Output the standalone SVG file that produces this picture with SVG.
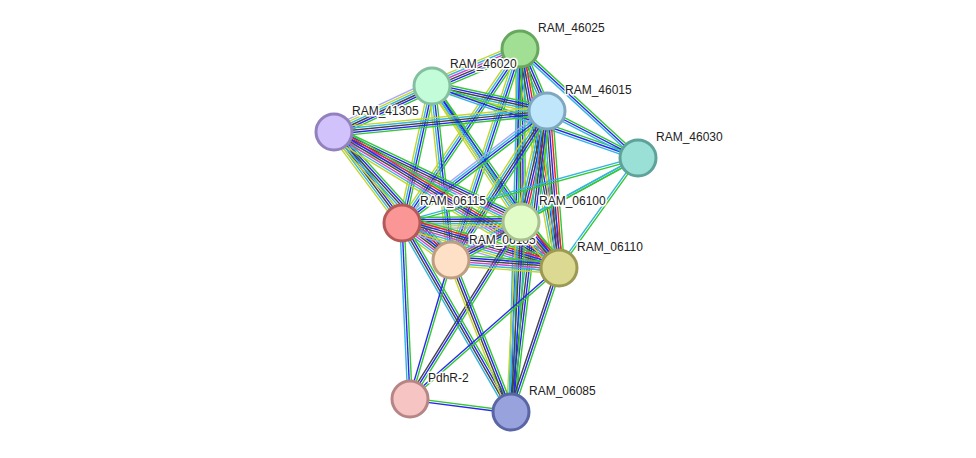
<svg xmlns="http://www.w3.org/2000/svg" width="976" height="458" viewBox="0 0 976 458">
<style>
line{stroke-width:1.4;fill:none}
.nb{stroke:#34c834}.fu{stroke:#ee2222}.co{stroke:#2626ee}.cx{stroke:#444444}
.ex{stroke:#cc44cc}.db{stroke:#33b5e0}.tm{stroke:#c4d52c}.hm{stroke:#a8a8f8}
circle{stroke-width:3}
text{font-family:"Liberation Sans",Arial,sans-serif;font-size:12px;fill:#222;stroke:#fff;stroke-width:3px;stroke-linejoin:round;paint-order:stroke}
</style>
<rect width="976" height="458" fill="#fff"/>
<g id="connectors">
<g transform="translate(520 49) rotate(157.2)"><line class="nb" x2="95.5" y1="-5.5" y2="-5.5"/><line class="co" x2="95.5" y1="-3.3" y2="-3.3"/><line class="cx" x2="95.5" y1="-1.1" y2="-1.1"/><line class="ex" x2="95.5" y1="1.1" y2="1.1"/><line class="db" x2="95.5" y1="3.3" y2="3.3"/><line class="tm" x2="95.5" y1="5.5" y2="5.5"/></g>
<g transform="translate(520 49) rotate(66.46)"><line class="nb" x2="67.6" y1="-4.4" y2="-4.4"/><line class="co" x2="67.6" y1="-2.2" y2="-2.2"/><line class="cx" x2="67.6" y1="0" y2="0"/><line class="db" x2="67.6" y1="2.2" y2="2.2"/><line class="tm" x2="67.6" y1="4.4" y2="4.4"/></g>
<g transform="translate(520 49) rotate(42.72)"><line class="nb" x2="160.6" y1="-2.2" y2="-2.2"/><line class="co" x2="160.6" y1="0" y2="0"/><line class="db" x2="160.6" y1="2.2" y2="2.2"/></g>
<g transform="translate(520 49) rotate(124.15)"><line class="nb" x2="210.2" y1="-3.3" y2="-3.3"/><line class="co" x2="210.2" y1="-1.1" y2="-1.1"/><line class="db" x2="210.2" y1="1.1" y2="1.1"/><line class="tm" x2="210.2" y1="3.3" y2="3.3"/></g>
<g transform="translate(520 49) rotate(89.67)"><line class="nb" x2="173" y1="-4.4" y2="-4.4"/><line class="co" x2="173" y1="-2.2" y2="-2.2"/><line class="cx" x2="173" y1="0" y2="0"/><line class="db" x2="173" y1="2.2" y2="2.2"/><line class="tm" x2="173" y1="4.4" y2="4.4"/></g>
<g transform="translate(520 49) rotate(108.11)"><line class="nb" x2="222" y1="-3.3" y2="-3.3"/><line class="co" x2="222" y1="-1.1" y2="-1.1"/><line class="db" x2="222" y1="1.1" y2="1.1"/><line class="tm" x2="222" y1="3.3" y2="3.3"/></g>
<g transform="translate(520 49) rotate(79.9)"><line class="nb" x2="222.4" y1="-5.5" y2="-5.5"/><line class="fu" x2="222.4" y1="-3.3" y2="-3.3"/><line class="co" x2="222.4" y1="-1.1" y2="-1.1"/><line class="cx" x2="222.4" y1="1.1" y2="1.1"/><line class="db" x2="222.4" y1="3.3" y2="3.3"/><line class="tm" x2="222.4" y1="5.5" y2="5.5"/></g>
<g transform="translate(520 49) rotate(91.42)"><line class="nb" x2="363.1" y1="-2.2" y2="-2.2"/><line class="co" x2="363.1" y1="0" y2="0"/><line class="db" x2="363.1" y1="2.2" y2="2.2"/></g>
<g transform="translate(432 86) rotate(12.26)"><line class="nb" x2="117.7" y1="-4.4" y2="-4.4"/><line class="co" x2="117.7" y1="-2.2" y2="-2.2"/><line class="cx" x2="117.7" y1="0" y2="0"/><line class="db" x2="117.7" y1="2.2" y2="2.2"/><line class="tm" x2="117.7" y1="4.4" y2="4.4"/></g>
<g transform="translate(432 86) rotate(154.86)"><line class="nb" x2="108.3" y1="-5.5" y2="-5.5"/><line class="co" x2="108.3" y1="-3.3" y2="-3.3"/><line class="cx" x2="108.3" y1="-1.1" y2="-1.1"/><line class="db" x2="108.3" y1="1.1" y2="1.1"/><line class="tm" x2="108.3" y1="3.3" y2="3.3"/><line class="hm" x2="108.3" y1="5.5" y2="5.5"/></g>
<g transform="translate(432 86) rotate(19.27)"><line class="nb" x2="218.2" y1="-2.2" y2="-2.2"/><line class="co" x2="218.2" y1="0" y2="0"/><line class="db" x2="218.2" y1="2.2" y2="2.2"/></g>
<g transform="translate(432 86) rotate(102.35)"><line class="nb" x2="140.2" y1="-3.3" y2="-3.3"/><line class="co" x2="140.2" y1="-1.1" y2="-1.1"/><line class="db" x2="140.2" y1="1.1" y2="1.1"/><line class="tm" x2="140.2" y1="3.3" y2="3.3"/></g>
<g transform="translate(432 86) rotate(56.8)"><line class="nb" x2="162.5" y1="-3.3" y2="-3.3"/><line class="co" x2="162.5" y1="-1.1" y2="-1.1"/><line class="db" x2="162.5" y1="1.1" y2="1.1"/><line class="tm" x2="162.5" y1="3.3" y2="3.3"/></g>
<g transform="translate(432 86) rotate(83.77)"><line class="nb" x2="175" y1="-3.3" y2="-3.3"/><line class="co" x2="175" y1="-1.1" y2="-1.1"/><line class="db" x2="175" y1="1.1" y2="1.1"/><line class="tm" x2="175" y1="3.3" y2="3.3"/></g>
<g transform="translate(432 86) rotate(55.1)"><line class="nb" x2="221.9" y1="-3.3" y2="-3.3"/><line class="co" x2="221.9" y1="-1.1" y2="-1.1"/><line class="db" x2="221.9" y1="1.1" y2="1.1"/><line class="tm" x2="221.9" y1="3.3" y2="3.3"/></g>
<g transform="translate(547 111) rotate(174.37)"><line class="nb" x2="214" y1="-4.4" y2="-4.4"/><line class="co" x2="214" y1="-2.2" y2="-2.2"/><line class="cx" x2="214" y1="0" y2="0"/><line class="db" x2="214" y1="2.2" y2="2.2"/><line class="tm" x2="214" y1="4.4" y2="4.4"/></g>
<g transform="translate(547 111) rotate(27.31)"><line class="nb" x2="102.4" y1="-2.2" y2="-2.2"/><line class="co" x2="102.4" y1="0" y2="0"/><line class="db" x2="102.4" y1="2.2" y2="2.2"/></g>
<g transform="translate(547 111) rotate(142.32)"><line class="nb" x2="183.2" y1="-3.3" y2="-3.3"/><line class="co" x2="183.2" y1="-1.1" y2="-1.1"/><line class="db" x2="183.2" y1="1.1" y2="1.1"/><line class="hm" x2="183.2" y1="3.3" y2="3.3"/></g>
<g transform="translate(547 111) rotate(103.18)"><line class="nb" x2="114" y1="-5.5" y2="-5.5"/><line class="fu" x2="114" y1="-3.3" y2="-3.3"/><line class="co" x2="114" y1="-1.1" y2="-1.1"/><line class="cx" x2="114" y1="1.1" y2="1.1"/><line class="db" x2="114" y1="3.3" y2="3.3"/><line class="tm" x2="114" y1="5.5" y2="5.5"/></g>
<g transform="translate(547 111) rotate(122.79)"><line class="nb" x2="177.2" y1="-4.4" y2="-4.4"/><line class="co" x2="177.2" y1="-2.2" y2="-2.2"/><line class="cx" x2="177.2" y1="0" y2="0"/><line class="db" x2="177.2" y1="2.2" y2="2.2"/><line class="tm" x2="177.2" y1="4.4" y2="4.4"/></g>
<g transform="translate(547 111) rotate(85.63)"><line class="nb" x2="157.5" y1="-5.5" y2="-5.5"/><line class="fu" x2="157.5" y1="-3.3" y2="-3.3"/><line class="co" x2="157.5" y1="-1.1" y2="-1.1"/><line class="cx" x2="157.5" y1="1.1" y2="1.1"/><line class="db" x2="157.5" y1="3.3" y2="3.3"/><line class="tm" x2="157.5" y1="5.5" y2="5.5"/></g>
<g transform="translate(547 111) rotate(96.82)"><line class="nb" x2="303.1" y1="-3.3" y2="-3.3"/><line class="co" x2="303.1" y1="-1.1" y2="-1.1"/><line class="cx" x2="303.1" y1="1.1" y2="1.1"/><line class="db" x2="303.1" y1="3.3" y2="3.3"/></g>
<g transform="translate(334 132) rotate(53.23)"><line class="nb" x2="113.6" y1="-4.4" y2="-4.4"/><line class="co" x2="113.6" y1="-2.2" y2="-2.2"/><line class="cx" x2="113.6" y1="0" y2="0"/><line class="db" x2="113.6" y1="2.2" y2="2.2"/><line class="tm" x2="113.6" y1="4.4" y2="4.4"/></g>
<g transform="translate(334 132) rotate(25.7)"><line class="nb" x2="207.5" y1="-5.5" y2="-5.5"/><line class="co" x2="207.5" y1="-3.3" y2="-3.3"/><line class="cx" x2="207.5" y1="-1.1" y2="-1.1"/><line class="ex" x2="207.5" y1="1.1" y2="1.1"/><line class="db" x2="207.5" y1="3.3" y2="3.3"/><line class="tm" x2="207.5" y1="5.5" y2="5.5"/></g>
<g transform="translate(334 132) rotate(47.57)"><line class="nb" x2="173.4" y1="-4.4" y2="-4.4"/><line class="co" x2="173.4" y1="-2.2" y2="-2.2"/><line class="cx" x2="173.4" y1="0" y2="0"/><line class="db" x2="173.4" y1="2.2" y2="2.2"/><line class="tm" x2="173.4" y1="4.4" y2="4.4"/></g>
<g transform="translate(334 132) rotate(31.15)"><line class="nb" x2="262.9" y1="-6.6" y2="-6.6"/><line class="fu" x2="262.9" y1="-4.4" y2="-4.4"/><line class="co" x2="262.9" y1="-2.2" y2="-2.2"/><line class="cx" x2="262.9" y1="0" y2="0"/><line class="ex" x2="262.9" y1="2.2" y2="2.2"/><line class="db" x2="262.9" y1="4.4" y2="4.4"/><line class="tm" x2="262.9" y1="6.6" y2="6.6"/></g>
<g transform="translate(638 158) rotate(164.6)"><line class="nb" x2="244.8" y1="-1.1" y2="-1.1"/><line class="db" x2="244.8" y1="1.1" y2="1.1"/></g>
<g transform="translate(638 158) rotate(151.32)"><line class="nb" x2="133.4" y1="-1.1" y2="-1.1"/><line class="db" x2="133.4" y1="1.1" y2="1.1"/></g>
<g transform="translate(638 158) rotate(151.39)"><line class="nb" x2="213" y1="-1.1" y2="-1.1"/><line class="db" x2="213" y1="1.1" y2="1.1"/></g>
<g transform="translate(638 158) rotate(125.68)"><line class="nb" x2="135.4" y1="-1.1" y2="-1.1"/><line class="db" x2="135.4" y1="1.1" y2="1.1"/></g>
<g transform="translate(402 223) rotate(-0.48)"><line class="nb" x2="119" y1="-5.5" y2="-5.5"/><line class="co" x2="119" y1="-3.3" y2="-3.3"/><line class="cx" x2="119" y1="-1.1" y2="-1.1"/><line class="db" x2="119" y1="1.1" y2="1.1"/><line class="tm" x2="119" y1="3.3" y2="3.3"/><line class="hm" x2="119" y1="5.5" y2="5.5"/></g>
<g transform="translate(402 223) rotate(37.06)"><line class="nb" x2="61.4" y1="-6.6" y2="-6.6"/><line class="fu" x2="61.4" y1="-4.4" y2="-4.4"/><line class="co" x2="61.4" y1="-2.2" y2="-2.2"/><line class="cx" x2="61.4" y1="0" y2="0"/><line class="ex" x2="61.4" y1="2.2" y2="2.2"/><line class="db" x2="61.4" y1="4.4" y2="4.4"/><line class="tm" x2="61.4" y1="6.6" y2="6.6"/></g>
<g transform="translate(402 223) rotate(15.99)"><line class="nb" x2="163.3" y1="-7.7" y2="-7.7"/><line class="fu" x2="163.3" y1="-5.5" y2="-5.5"/><line class="co" x2="163.3" y1="-3.3" y2="-3.3"/><line class="cx" x2="163.3" y1="-1.1" y2="-1.1"/><line class="ex" x2="163.3" y1="1.1" y2="1.1"/><line class="db" x2="163.3" y1="3.3" y2="3.3"/><line class="tm" x2="163.3" y1="5.5" y2="5.5"/><line class="hm" x2="163.3" y1="7.7" y2="7.7"/></g>
<g transform="translate(402 223) rotate(87.4)"><line class="nb" x2="176.2" y1="-2.2" y2="-2.2"/><line class="co" x2="176.2" y1="0" y2="0"/><line class="db" x2="176.2" y1="2.2" y2="2.2"/></g>
<g transform="translate(402 223) rotate(60.03)"><line class="nb" x2="218.2" y1="-3.3" y2="-3.3"/><line class="co" x2="218.2" y1="-1.1" y2="-1.1"/><line class="cx" x2="218.2" y1="1.1" y2="1.1"/><line class="db" x2="218.2" y1="3.3" y2="3.3"/></g>
<g transform="translate(521 222) rotate(151.5)"><line class="nb" x2="79.6" y1="-5.5" y2="-5.5"/><line class="co" x2="79.6" y1="-3.3" y2="-3.3"/><line class="cx" x2="79.6" y1="-1.1" y2="-1.1"/><line class="ex" x2="79.6" y1="1.1" y2="1.1"/><line class="db" x2="79.6" y1="3.3" y2="3.3"/><line class="tm" x2="79.6" y1="5.5" y2="5.5"/></g>
<g transform="translate(521 222) rotate(50.44)"><line class="nb" x2="59.7" y1="-6.6" y2="-6.6"/><line class="fu" x2="59.7" y1="-4.4" y2="-4.4"/><line class="co" x2="59.7" y1="-2.2" y2="-2.2"/><line class="cx" x2="59.7" y1="0" y2="0"/><line class="ex" x2="59.7" y1="2.2" y2="2.2"/><line class="db" x2="59.7" y1="4.4" y2="4.4"/><line class="tm" x2="59.7" y1="6.6" y2="6.6"/></g>
<g transform="translate(521 222) rotate(122.09)"><line class="nb" x2="208.9" y1="-2.2" y2="-2.2"/><line class="co" x2="208.9" y1="0" y2="0"/><line class="cx" x2="208.9" y1="2.2" y2="2.2"/></g>
<g transform="translate(521 222) rotate(93.01)"><line class="nb" x2="190.3" y1="-4.4" y2="-4.4"/><line class="co" x2="190.3" y1="-2.2" y2="-2.2"/><line class="cx" x2="190.3" y1="0" y2="0"/><line class="db" x2="190.3" y1="2.2" y2="2.2"/><line class="tm" x2="190.3" y1="4.4" y2="4.4"/></g>
<g transform="translate(451 260) rotate(4.24)"><line class="nb" x2="108.3" y1="-5.5" y2="-5.5"/><line class="co" x2="108.3" y1="-3.3" y2="-3.3"/><line class="cx" x2="108.3" y1="-1.1" y2="-1.1"/><line class="ex" x2="108.3" y1="1.1" y2="1.1"/><line class="db" x2="108.3" y1="3.3" y2="3.3"/><line class="tm" x2="108.3" y1="5.5" y2="5.5"/></g>
<g transform="translate(451 260) rotate(106.43)"><line class="nb" x2="144.9" y1="-1.1" y2="-1.1"/><line class="co" x2="144.9" y1="1.1" y2="1.1"/></g>
<g transform="translate(451 260) rotate(68.46)"><line class="nb" x2="163.4" y1="-3.3" y2="-3.3"/><line class="co" x2="163.4" y1="-1.1" y2="-1.1"/><line class="cx" x2="163.4" y1="1.1" y2="1.1"/><line class="tm" x2="163.4" y1="3.3" y2="3.3"/></g>
<g transform="translate(559 268) rotate(138.68)"><line class="nb" x2="198.4" y1="-1.1" y2="-1.1"/><line class="co" x2="198.4" y1="1.1" y2="1.1"/></g>
<g transform="translate(559 268) rotate(108.43)"><line class="nb" x2="151.8" y1="-2.2" y2="-2.2"/><line class="co" x2="151.8" y1="0" y2="0"/><line class="cx" x2="151.8" y1="2.2" y2="2.2"/></g>
<g transform="translate(410 399) rotate(7.33)"><line class="nb" x2="101.8" y1="-1.1" y2="-1.1"/><line class="co" x2="101.8" y1="1.1" y2="1.1"/></g>
</g>
<g id="RAM_46025"><circle cx="520" cy="49" r="18" fill="#a1df95" stroke="#68a85e"/><text x="538" y="32">RAM_46025</text></g>
<g id="RAM_46020"><circle cx="432" cy="86" r="18" fill="#c2fcd8" stroke="#84c0a0"/><text x="450" y="68">RAM_46020</text></g>
<g id="RAM_46015"><circle cx="547" cy="111" r="18" fill="#c0e6fb" stroke="#7ea7c0"/><text x="565" y="94">RAM_46015</text></g>
<g id="RAM_41305"><circle cx="334" cy="132" r="18" fill="#d1c2fb" stroke="#9281be"/><text x="352" y="115">RAM_41305</text></g>
<g id="RAM_46030"><circle cx="638" cy="158" r="18" fill="#9ae0d7" stroke="#5ea39a"/><text x="656" y="141">RAM_46030</text></g>
<g id="RAM_06115"><circle cx="402" cy="223" r="18" fill="#fb9696" stroke="#b45858"/><text x="420" y="205">RAM_06115</text></g>
<g id="RAM_06105"><circle cx="451" cy="260" r="18" fill="#fde0c5" stroke="#bd9e82"/><text x="469" y="244">RAM_06105</text></g>
<g id="RAM_06100"><circle cx="521" cy="222" r="18" fill="#e2fcc8" stroke="#a8bf8e"/><text x="539" y="205">RAM_06100</text></g>
<g id="RAM_06110"><circle cx="559" cy="268" r="18" fill="#dcd992" stroke="#9c9a52"/><text x="577" y="251">RAM_06110</text></g>
<g id="PdhR-2"><circle cx="410" cy="399" r="18" fill="#f7c4c4" stroke="#b68686"/><text x="428" y="382">PdhR-2</text></g>
<g id="RAM_06085"><circle cx="511" cy="412" r="18" fill="#98a2dd" stroke="#5965a5"/><text x="529" y="395">RAM_06085</text></g>
</svg>
